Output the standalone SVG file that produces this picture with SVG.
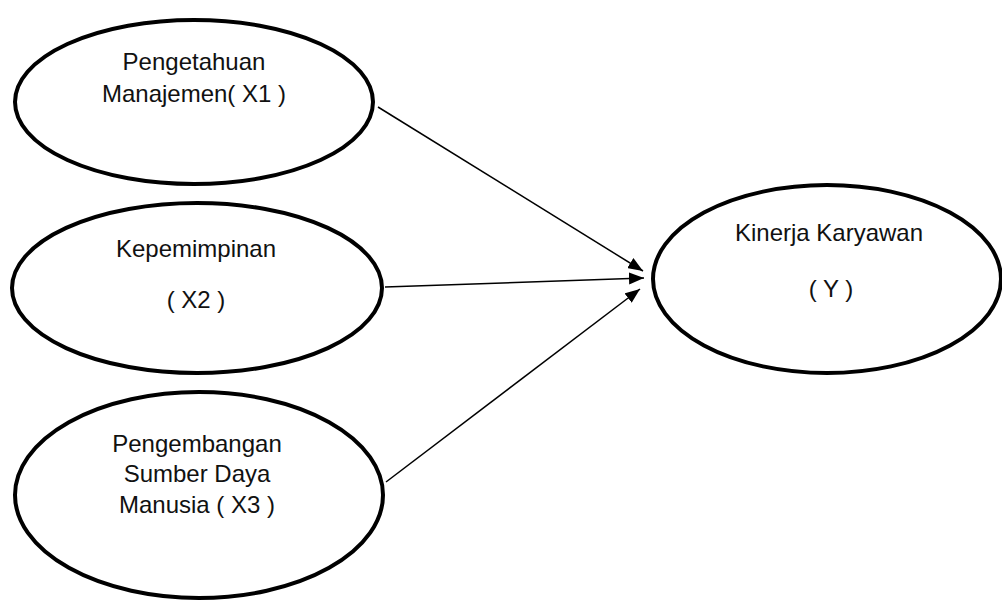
<svg xmlns="http://www.w3.org/2000/svg" width="1002" height="601" viewBox="0 0 1002 601">
<style>
.node ellipse{fill:#fff;stroke:#000;stroke-width:4}
.node text{font-family:"Liberation Sans",Arial,sans-serif;font-size:24px;fill:#111;text-anchor:middle}
.conn line{stroke:#000;stroke-width:1.5}
</style>
<defs>
<marker id="arr" markerUnits="userSpaceOnUse" markerWidth="16" markerHeight="12" refX="15" refY="6" orient="auto">
<path d="M0,0 L15,6 L0,12 Z" fill="#000"/>
</marker>
</defs>
<rect width="1002" height="601" fill="#fff"/>
<g id="connectors" class="conn">
<line x1="378" y1="107" x2="643" y2="271" marker-end="url(#arr)"/>
<line x1="385" y1="287" x2="644" y2="278" marker-end="url(#arr)"/>
<line x1="386" y1="482" x2="640" y2="289" marker-end="url(#arr)"/>
</g>
<g id="x1" class="node">
<ellipse cx="194" cy="102" rx="179" ry="82"/>
<text x="194" y="70">Pengetahuan</text>
<text x="194" y="102">Manajemen( X1 )</text>
</g>
<g id="x2" class="node">
<ellipse cx="197" cy="288" rx="185" ry="85"/>
<text x="196" y="257">Kepemimpinan</text>
<text x="196" y="308">( X2 )</text>
</g>
<g id="x3" class="node">
<ellipse cx="199" cy="495" rx="184" ry="103"/>
<text x="197" y="452">Pengembangan</text>
<text x="197" y="482">Sumber Daya</text>
<text x="197" y="513">Manusia ( X3 )</text>
</g>
<g id="y" class="node">
<ellipse cx="827" cy="279" rx="174" ry="94"/>
<text x="829" y="241">Kinerja Karyawan</text>
<text x="831" y="297">( Y )</text>
</g>
</svg>
